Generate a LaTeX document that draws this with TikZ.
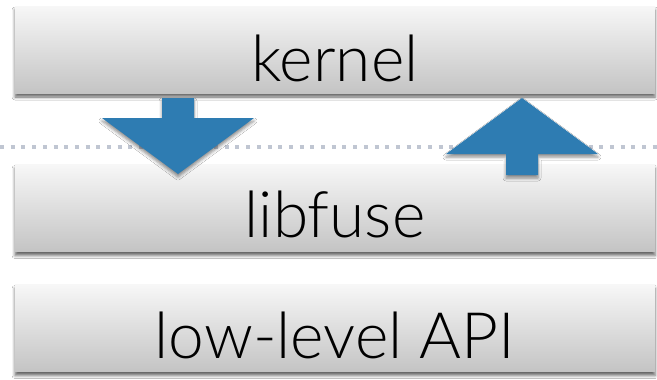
\documentclass[tikz,border=0pt]{standalone}
\usepackage{fontspec}
\setmainfont{TeX Gyre Heros}
\newfontfamily\layerfont{Lato Light}
\usetikzlibrary{shadows.blur}
\definecolor{barTop}{RGB}{247,247,247}
\definecolor{barBottom}{RGB}{196,196,196}
\definecolor{flowBlue}{RGB}{46,124,178}
\definecolor{dotGray}{RGB}{192,198,210}
\tikzset{
  layerbar/.style={rectangle, inner sep=0pt, minimum width=640pt, minimum height=87pt,
    top color=barTop, bottom color=barBottom, draw=none,
    blur shadow={shadow xshift=0pt, shadow yshift=-4pt, shadow blur radius=3pt, shadow opacity=60}},
  layertext/.style={anchor=base, inner sep=0pt, font=\layerfont\fontsize{64}{64}\selectfont, text=black},
  blockarrow/.style={fill=flowBlue, draw=none,
    blur shadow={shadow xshift=0pt, shadow yshift=-3pt, shadow blur radius=3pt, shadow opacity=45}},
  boundary/.style={draw=dotGray, line width=4pt, dash pattern=on 4pt off 6.7pt}
}
\begin{document}
\begin{tikzpicture}[x=1pt, y=-1pt]
  \useasboundingbox (0,0) rectangle (657,380);
  \fill[white] (0,0) rectangle (657,380);

  % user/kernel boundary
  \coordinate (bl) at (0,147);
  \coordinate (br) at (657,147);
  \draw[boundary] (bl) -- (br);

  % the three layers
  \node[layerbar] (kernel)   at (335,49.5) {};
  \node[layerbar] (libfuse)  at (335,208) {};
  \node[layerbar] (lowlevel) at (335,328) {};

  \node[layertext] (kernelText)   at ([yshift=-31.5pt]kernel.center)   {kernel};
  \node[layertext] (libfuseText)  at ([yshift=-29pt]libfuse.center)    {libfuse};
  \node[layertext] (lowlevelText) at ([yshift=-30pt]lowlevel.center)   {low-level API};

  % request goes down into libfuse
  \fill[blockarrow] (162,98) -- (194,98) -- (194,118) -- (254,118) -- (178,174)
    -- (102,118) -- (162,118) -- cycle;

  % reply goes back up to the kernel
  \fill[blockarrow] (522,98) -- (598,154) -- (538,154) -- (538,175) -- (506,175)
    -- (506,154) -- (446,154) -- cycle;
\end{tikzpicture}
\end{document}
